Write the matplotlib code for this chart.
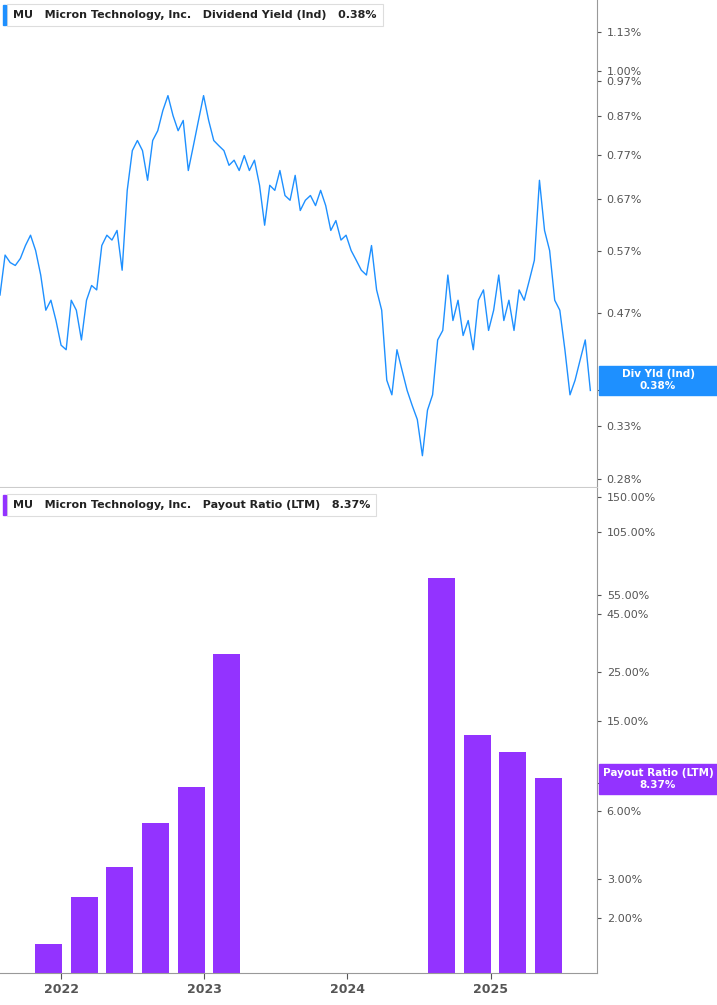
import matplotlib
matplotlib.use("Agg")
import matplotlib.pyplot as plt
import matplotlib.ticker as mt
import pandas as pd
import numpy as np

yield_vals = [0.497,0.563,0.550,0.545,0.557,0.580,0.599,0.571,0.529,0.474,0.489,0.459,0.425,0.419,0.489,0.474,0.432,0.489,0.512,0.505,0.580,0.599,0.590,0.608,0.537,0.689,0.780,0.805,0.780,0.711,0.805,0.830,0.884,0.926,0.870,0.830,0.857,0.733,0.792,0.857,0.926,0.857,0.805,0.792,0.780,0.745,0.757,0.733,0.768,0.733,0.757,0.700,0.618,0.700,0.689,0.733,0.678,0.668,0.722,0.647,0.668,0.678,0.657,0.689,0.657,0.608,0.627,0.590,0.599,0.571,0.554,0.537,0.529,0.580,0.505,0.474,0.381,0.364,0.419,0.393,0.369,0.352,0.337,0.301,0.347,0.364,0.432,0.445,0.529,0.459,0.489,0.438,0.459,0.419,0.489,0.505,0.445,0.474,0.529,0.459,0.489,0.445,0.505,0.489,0.520,0.554,0.711,0.608,0.571,0.489,0.474,0.419,0.364,0.381,0.406,0.432,0.369]
yield_dates = pd.date_range("2021-07-28", periods=len(yield_vals), freq="13D")

bar_dates = pd.to_datetime(["2021-11-28","2022-02-28","2022-05-30","2022-08-29","2022-11-28","2023-02-27",
                            "2024-08-28","2024-11-28","2025-02-27","2025-05-29"])
payout = [1.52, 2.48, 3.36, 5.27, 7.62, 29.9, 65.0, 13.1, 11.0, 8.37]

yield_ticks = [0.28,0.33,0.37,0.47,0.57,0.67,0.77,0.87,0.97,1.00,1.13]
payout_ticks = [2,3,6,8,15,25,45,55,105,150]
years = ["2022","2023","2024","2025"]

blue = "#1e90ff"
purple = "#9333ff"
grey = "#555555"

fig = plt.figure(figsize=(7.17, 10.05), dpi=100)
W, H = 717, 1005
ax1 = fig.add_axes([0, 1-487/H, 597/W, 487/H])
ax2 = fig.add_axes([0, 1-973/H, 597/W, (973-488)/H])
xmin = pd.Timestamp("2021-07-28"); xmax = pd.Timestamp("2025-09-30")

ax1.plot(yield_dates, yield_vals, color=blue, lw=1)
ax1.set_yscale("log"); ax1.set_ylim(0.273, 1.248)
ax2.bar(bar_dates, payout, width=69, color=purple, bottom=0.01)
ax2.set_yscale("log"); ax2.set_ylim(1.14, 164)

for ax, ticks in ((ax1, yield_ticks), (ax2, payout_ticks)):
    ax.set_xlim(xmin, xmax)
    ax.yaxis.tick_right()
    ax.yaxis.set_major_locator(mt.FixedLocator(ticks))
    ax.yaxis.set_minor_locator(mt.NullLocator())
    ax.set_yticklabels(["{:.2f}%".format(t) for t in ticks])
    ax.tick_params(axis="y", length=3, color=grey, labelcolor=grey, labelsize=8, pad=4)
    for s in ("top", "left"):
        ax.spines[s].set_visible(False)
    ax.spines["right"].set_color("#999999")
    ax.spines["bottom"].set_color("#cccccc")

ax1.set_xticks([])
ax2.spines["bottom"].set_color("#999999")
ax2.set_xticks(pd.to_datetime([y + "-01-01" for y in years]))
ax2.set_xticklabels(years, fontweight="bold", color=grey, fontsize=9)
ax2.tick_params(axis="x", length=4, color=grey)

def label_box(y, color, text):
    fig.patches.append(plt.Rectangle((3/W, 1-(y+10)/H), 3/W, 20/H, transform=fig.transFigure, color=color, zorder=5))
    fig.text(13/W, 1-y/H, text, fontsize=8, va="center", color="#222222", fontweight="bold",
             bbox=dict(boxstyle="square,pad=0.55", fc="white", ec="#dddddd", lw=0.8))
label_box(15, blue, "MU   Micron Technology, Inc.   Dividend Yield (Ind)   0.38%")
label_box(505, purple, "MU   Micron Technology, Inc.   Payout Ratio (LTM)   8.37%")

fig.patches.append(plt.Rectangle((599/W, 1-395/H), 118/W, 29/H, transform=fig.transFigure, color=blue, zorder=5))
fig.text(658/W, 1-374/H, "Div Yld (Ind)", ha="center", va="center", color="white", fontsize=7.5, fontweight="bold", zorder=6)
fig.text(658/W, 1-386/H, "0.38%", ha="center", va="center", color="white", fontsize=7.5, fontweight="bold", zorder=6)
fig.patches.append(plt.Rectangle((599/W, 1-794/H), 118/W, 30/H, transform=fig.transFigure, color=purple, zorder=5))
fig.text(658/W, 1-773/H, "Payout Ratio (LTM)", ha="center", va="center", color="white", fontsize=7.5, fontweight="bold", zorder=6)
fig.text(658/W, 1-785/H, "8.37%", ha="center", va="center", color="white", fontsize=7.5, fontweight="bold", zorder=6)

fig.savefig("out.png", dpi=100)
